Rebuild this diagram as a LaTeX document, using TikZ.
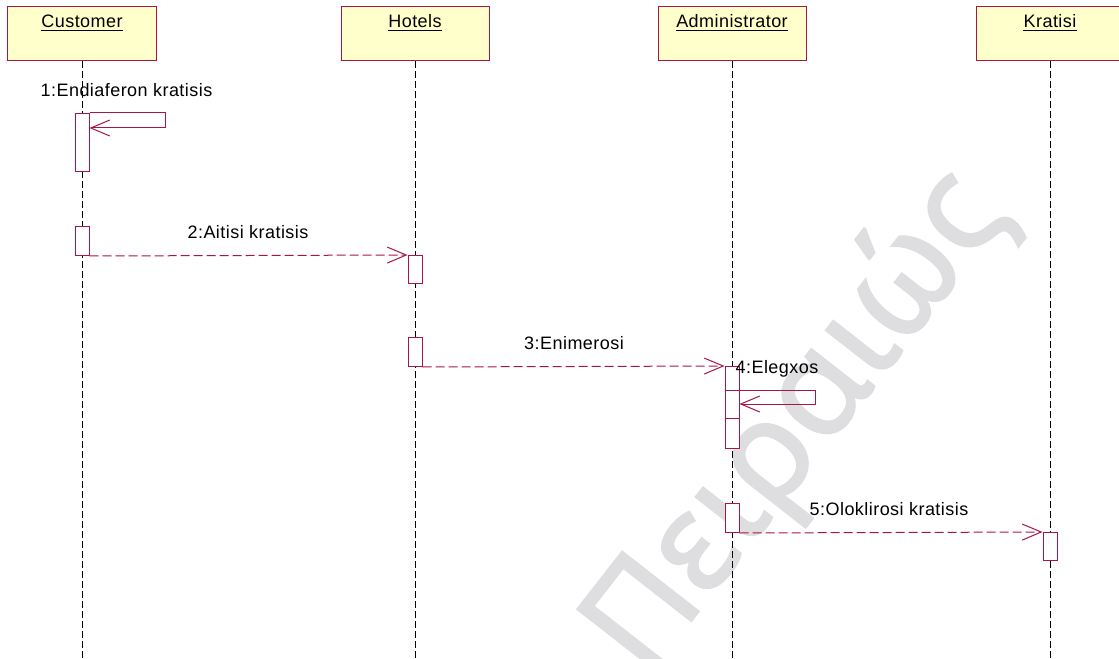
\documentclass[tikz,border=0pt]{standalone}
\usepackage{fontspec}
\setmainfont[LetterSpace=2.5]{Liberation Sans}
\newfontfamily\wmfont[FakeBold=1.5]{Noto Sans}
\usetikzlibrary{arrows.meta}
\definecolor{umlred}{RGB}{168,22,72}
\definecolor{objfill}{RGB}{255,255,204}
\definecolor{wmgray}{RGB}{222,222,224}
\newcommand{\umlfont}{\fontsize{18bp}{20bp}\selectfont}

\begin{document}
\begin{tikzpicture}[x=1bp,y=-1bp,
  objbox/.style={draw=umlred, fill=objfill, line width=1bp, minimum width=148bp,
                 minimum height=54bp, inner sep=0pt, anchor=north},
  objname/.style={inner sep=0pt, anchor=base, font=\umlfont},
  act/.style={draw=umlred, fill=white, line width=1bp, minimum width=14bp,
              inner sep=0pt, anchor=north},
  lifeline/.style={black, line width=0.9bp, dash pattern=on 7bp off 3bp},
  call/.style={umlred, line width=1bp, -{Straight Barb[length=19bp,width=16bp]}},
  send/.style={call, dash pattern=on 9bp off 4bp},
  msglabel/.style={inner sep=0pt, anchor=base, font=\umlfont},
  uline/.style={black, line width=0.9bp}
]
\useasboundingbox (0,0) rectangle (1119,659);
\fill[white] (0,0) rectangle (1119,659);

% watermark
\node[rotate=52, anchor=base, text=wmgray, inner sep=0pt,
      font=\wmfont\fontsize{136bp}{136bp}\selectfont] (wm) at (828,446) {Πειραιώς};

% objects
\node[objbox] (cust) at (82,6) {};
\node[objbox] (hotel) at (415,6) {};
\node[objbox] (admin) at (732,6) {};
\node[objbox] (krat) at (1050,6) {};

\node[objname] (ncust) at (82,27.5) {Customer};
\node[objname] (nhotel) at (415,27.5) {Hotels};
\node[objname] (nadmin) at (732,27.5) {Administrator};
\node[objname] (nkrat) at (1050,27.5) {Kratisi};
\foreach \n in {ncust,nhotel,nadmin,nkrat}
  \draw[uline] ([yshift=-3bp]\n.base west) -- ([yshift=-3bp]\n.base east);

% lifelines
\coordinate (bottom) at (0,659);
\foreach \o in {cust,hotel,admin,krat}
  \draw[lifeline] (\o.south) -- (\o.south |- bottom);

% activations
\node[act, minimum height=58bp] (c1) at (82,113) {};
\node[act, minimum height=29bp] (c2) at (82,226) {};
\node[act, minimum height=28bp] (h1) at (415,255) {};
\node[act, minimum height=29bp] (h2) at (415,337) {};
\node[act, minimum height=82bp] (ad1) at (732,366) {};
\node[act, minimum height=28bp] (ad2) at (732,390) {};
\node[act, minimum height=29bp] (ad3) at (732,503) {};
\node[act, minimum height=28bp] (k1) at (1050,532) {};

% 1: self call on Customer
\coordinate (s1a) at (165,113);
\coordinate (s1b) at (165,128);
\draw[call] (c1.north east) -- (s1a) -- (s1b) -- (c1.east |- s1b);
\node[msglabel] (m1) at (126.5,97) {1:Endiaferon kratisis};

% 2: Customer -> Hotels
\draw[send] (c2.south east) -- (h1.north west);
\node[msglabel] (m2) at (248,238) {2:Aitisi kratisis};

% 3: Hotels -> Administrator
\draw[send] (h2.south east) -- (ad1.north west);
\node[msglabel] (m3) at (574,349) {3:Enimerosi};

% 4: self call on Administrator
\coordinate (s4a) at (815,390);
\coordinate (s4b) at (815,404);
\draw[call] (ad2.north east) -- (s4a) -- (s4b) -- (ad2.east |- s4b);
\node[msglabel] (m4) at (777,373) {4:Elegxos};

% 5: Administrator -> Kratisi
\draw[send] (ad3.south east) -- (k1.north west);
\node[msglabel] (m5) at (889,515) {5:Oloklirosi kratisis};
\end{tikzpicture}
\end{document}
